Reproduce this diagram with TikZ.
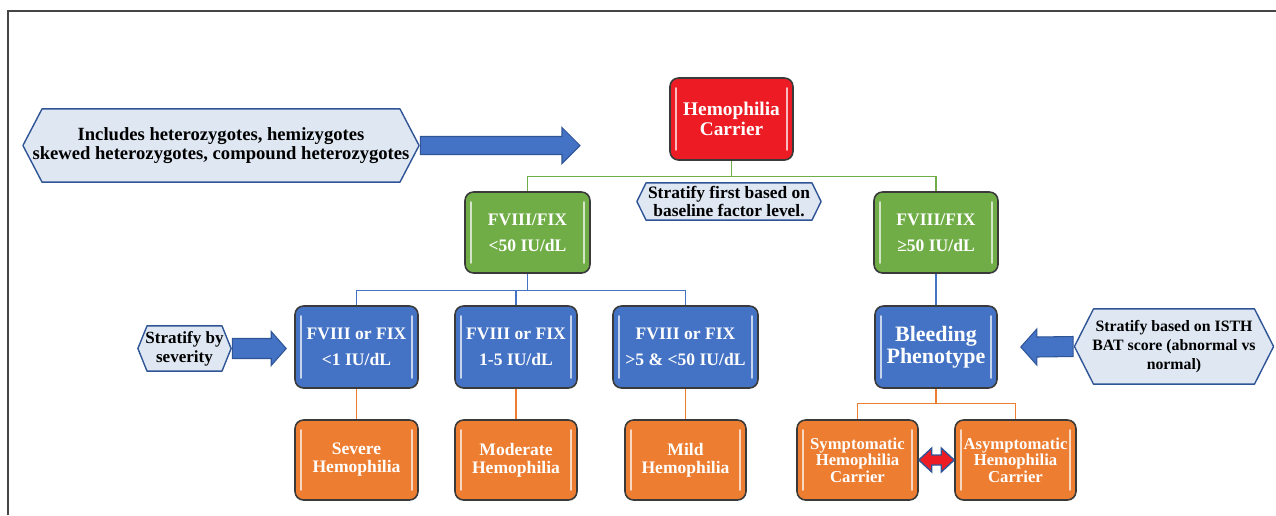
\documentclass[tikz,border=0pt]{standalone}
\usepackage{fontspec}
\setmainfont{Liberation Serif}
\usetikzlibrary{positioning, calc}

\definecolor{carrierred}{HTML}{ED1C24}
\definecolor{fixgreen}{HTML}{70AD47}
\definecolor{sevblue}{HTML}{4472C4}
\definecolor{outorange}{HTML}{ED7D31}
\definecolor{hexfill}{HTML}{DEE7F2}
\definecolor{hexline}{HTML}{2F5597}
\definecolor{boxline}{HTML}{3A3A3A}
\definecolor{framegray}{HTML}{454545}

\tikzset{
  box/.style={rectangle, rounded corners=0.17cm, draw=boxline, line width=0.9pt,
    fill=#1, text=white, font=\bfseries, align=center, inner sep=0pt,
    path picture={
      \draw[white, opacity=0.7, line width=0.9pt, line cap=round]
        ([xshift=0.12cm, yshift=-0.2cm]path picture bounding box.north west) --
        ([xshift=0.12cm, yshift=0.2cm]path picture bounding box.south west)
        ([xshift=-0.12cm, yshift=-0.2cm]path picture bounding box.north east) --
        ([xshift=-0.12cm, yshift=0.2cm]path picture bounding box.south east);
    }},
  hexbox/.style={rectangle, inner sep=0pt, align=center, font=\bfseries,
    path picture={
      \draw[draw=hexline, fill=hexfill, line width=0.8pt, line join=round]
        ([xshift=0.5pt]path picture bounding box.west) --
        ([xshift=#1, yshift=-0.5pt]path picture bounding box.north west) --
        ([xshift=-#1, yshift=-0.5pt]path picture bounding box.north east) --
        ([xshift=-0.5pt]path picture bounding box.east) --
        ([xshift=-#1, yshift=0.5pt]path picture bounding box.south east) --
        ([xshift=#1, yshift=0.5pt]path picture bounding box.south west) -- cycle;
    }},
  blockarrow/.style={fill=sevblue, draw=hexline, line width=0.6pt, line join=miter},
  dblarrow/.style={fill=carrierred, draw=hexline, line width=0.8pt},
  greenline/.style={draw=fixgreen, line width=0.7pt},
  blueline/.style={draw=sevblue, line width=0.7pt},
  orangeline/.style={draw=outorange, line width=0.7pt}
}

% #2 tail, #3 tip, #4 shaft half, #5 head half, #6 head length (signed)
\newcommand{\blockarrow}[6][blockarrow]{%
  \draw[#1] ($(#2)+(0,#4)$) -- ($(#3)+({-(#6)},#4)$) -- ($(#3)+({-(#6)},#5)$) -- (#3)
    -- ($(#3)+({-(#6)},{-(#5)})$) -- ($(#3)+({-(#6)},{-(#4)})$) -- ($(#2)+(0,{-(#4)})$) -- cycle;}

\begin{document}
\begin{tikzpicture}[x=0.02cm, y=-0.02cm]
  \useasboundingbox (0,0) rectangle (1276,515);
  \draw[framegray, line width=1.2pt] (8,515) -- (8,11) -- (1276,11);

  % top level
  \node[box=carrierred, minimum width=2.46cm, minimum height=1.64cm,
        font=\bfseries\fontsize{11}{11.5}\selectfont] (carrier) at (731.5,119) {Hemophilia\\Carrier};
  \node[box=fixgreen, minimum width=2.5cm, minimum height=1.62cm,
        font=\bfseries\fontsize{10}{14.7}\selectfont] (fixlow) at (527.5,232.5) {FVIII/FIX\\<50 IU/dL};
  \node[box=fixgreen, minimum width=2.48cm, minimum height=1.62cm,
        font=\bfseries\fontsize{10}{14.7}\selectfont] (fixhigh) at (936,232.5) {FVIII/FIX\\≥50 IU/dL};

  % severity
  \node[box=sevblue, minimum width=2.46cm, minimum height=1.64cm,
        font=\bfseries\fontsize{10}{14.7}\selectfont] (sev1) at (356.5,347) {FVIII or FIX\\<1 IU/dL};
  \node[box=sevblue, minimum width=2.44cm, minimum height=1.64cm,
        font=\bfseries\fontsize{10}{14.7}\selectfont] (sev2) at (516,347) {FVIII or FIX\\1-5 IU/dL};
  \node[box=sevblue, minimum width=2.9cm, minimum height=1.64cm,
        font=\bfseries\fontsize{10}{14.7}\selectfont] (sev3) at (685.5,347) {FVIII or FIX\\>5 \& <50 IU/dL};
  \node[box=sevblue, minimum width=2.44cm, minimum height=1.64cm,
        font=\bfseries\fontsize{12.5}{12.5}\selectfont] (bleed) at (936,347) {Bleeding\\Phenotype};

  % outcomes
  \node[box=outorange, minimum width=2.46cm, minimum height=1.6cm,
        font=\bfseries\fontsize{10}{10.2}\selectfont] (severe) at (356.5,460) {Severe\\Hemophilia};
  \node[box=outorange, minimum width=2.44cm, minimum height=1.6cm,
        font=\bfseries\fontsize{10}{10.2}\selectfont] (moderate) at (516,460) {Moderate\\Hemophilia};
  \node[box=outorange, minimum width=2.42cm, minimum height=1.6cm,
        font=\bfseries\fontsize{10}{10.2}\selectfont] (mild) at (685.5,460) {Mild\\Hemophilia};
  \node[box=outorange, minimum width=2.42cm, minimum height=1.6cm,
        font=\bfseries\fontsize{9.5}{9.4}\selectfont] (symp) at (857.5,460) {Symptomatic\\Hemophilia\\Carrier};
  \node[box=outorange, minimum width=2.42cm, minimum height=1.6cm,
        font=\bfseries\fontsize{9.5}{9.4}\selectfont] (asymp) at (1015.5,460) {Asymptomatic\\Hemophilia\\Carrier};

  % notes
  \node[hexbox=0.4cm, minimum width=7.96cm, minimum height=1.5cm,
        font=\bfseries\fontsize{10.6}{11}\selectfont] (incl) at (221,145.5)
        {Includes heterozygotes, hemizygotes\\skewed heterozygotes, compound heterozygotes};
  \node[hexbox=0.2cm, minimum width=3.72cm, minimum height=0.78cm,
        font=\bfseries\fontsize{9.9}{10}\selectfont] (first) at (729,201.5)
        {Stratify first based on\\baseline factor level.};
  \node[hexbox=0.2cm, minimum width=1.9cm, minimum height=0.94cm,
        font=\bfseries\fontsize{9.7}{10.8}\selectfont] (bysev) at (184.5,348.5)
        {Stratify by\\severity};
  \node[hexbox=0.4cm, minimum width=4.02cm, minimum height=1.54cm,
        font=\bfseries\fontsize{9}{11}\selectfont] (isth) at (1174,346.5)
        {Stratify based on ISTH\\BAT score (abnormal vs\\normal)};

  % tree lines
  \draw[greenline] (carrier.south) -- ++(0,16) -| (fixlow.north);
  \draw[greenline] (carrier.south) -- ++(0,16) -| (fixhigh.north);
  \draw[blueline] (fixlow.south) -- ++(0,17) -| (sev1.north);
  \draw[blueline] (fixlow.south) -- ++(0,17) -| (sev2.north);
  \draw[blueline] (fixlow.south) -- ++(0,17) -| (sev3.north);
  \draw[blueline] (fixhigh.south) -- (bleed.north);
  \draw[orangeline] (sev1.south) -- (severe.north);
  \draw[orangeline] (sev2.south) -- (moderate.north);
  \draw[orangeline] (sev3.south) -- (mild.north);
  \draw[orangeline] (bleed.south) -- ++(0,15) -| (symp.north);
  \draw[orangeline] (bleed.south) -- ++(0,15) -| (asymp.north);

  % block arrows
  \coordinate (incltip) at (580,145.5);
  \coordinate (sevtip) at ($(sev1.west)+(-8,1.5)$);
  \coordinate (isthtip) at ($(bleed.east)+(23,0)$);
  \blockarrow{incl.east}{incltip}{9}{18}{18}
  \blockarrow{bysev.east}{sevtip}{10}{17}{15}
  \blockarrow{isth.west}{isthtip}{10}{18}{-16}

  \draw[dblarrow] (symp.east) -- ++(13,12) -- ++(0,-7) -- ($(asymp.west)+(-13,5)$) -- ++(0,7)
    -- (asymp.west) -- ++(-13,-12) -- ++(0,7) -- ($(symp.east)+(13,-5)$) -- ++(0,-7) -- cycle;
\end{tikzpicture}
\end{document}
